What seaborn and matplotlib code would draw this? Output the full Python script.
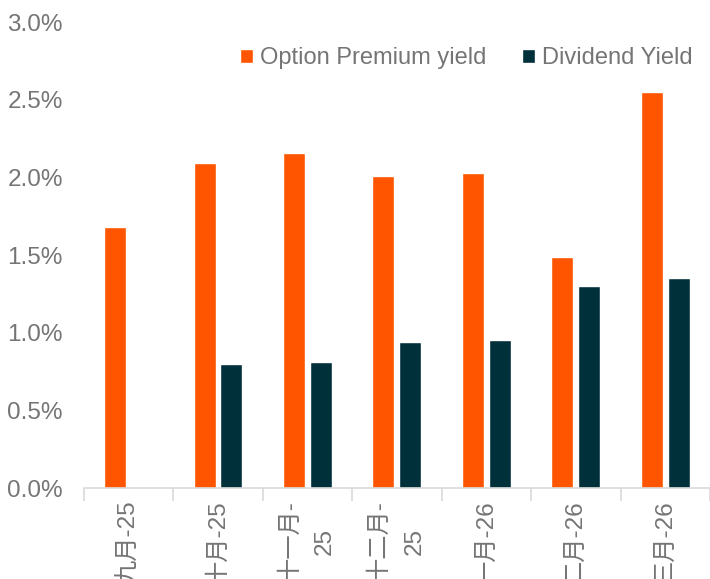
import numpy as np
import pandas as pd
import matplotlib
matplotlib.use("Agg")
import matplotlib.pyplot as plt
from matplotlib.ticker import PercentFormatter, FixedLocator
import seaborn as sns

# 数据 (单位: %)
months = ["九月-25", "十月-25", "十一月-\n25", "十二月-\n25", "一月-26", "二月-26", "三月-26"]
option_premium = [1.68, 2.09, 2.16, 2.01, 2.03, 1.49, 2.55]
dividend_yield = [np.nan, 0.80, 0.81, 0.94, 0.955, 1.30, 1.35]
series_names = ["Option Premium yield", "Dividend Yield"]
colors = ["#FF5500", "#00303A"]

df = pd.DataFrame({
    "month": months * 2,
    "value": option_premium + dividend_yield,
    "series": [series_names[0]] * len(months) + [series_names[1]] * len(months),
})

sns.set_theme(style="white")
plt.rcParams["font.family"] = ["Liberation Sans", "Noto Sans CJK SC", "DejaVu Sans"]
text_color = "#757575"
fs = 17.5

fig, ax = plt.subplots(figsize=(7.1, 5.79), dpi=100)
fig.subplots_adjust(left=0.118, right=1.0, top=0.962, bottom=0.157)

sns.barplot(data=df, x="month", y="value", hue="series", palette=colors,
            width=0.6, gap=0.18, saturation=1, ax=ax)

ax.set_ylim(0, 3.0)
ax.set_yticks(np.arange(0, 3.01, 0.5))
ax.yaxis.set_major_formatter(PercentFormatter(100, decimals=1))
ax.set_xlim(-0.5, len(months) - 0.5)
ax.set_xlabel("")
ax.set_ylabel("")

for s in ["top", "right", "left"]:
    ax.spines[s].set_visible(False)
ax.spines["bottom"].set_color("#D9D9D9")
ax.spines["bottom"].set_linewidth(1.2)

ax.tick_params(axis="y", length=0, pad=15, labelsize=fs, labelcolor=text_color)
ax.tick_params(axis="x", which="major", length=0, pad=9, labelsize=fs, labelcolor=text_color)
ax.xaxis.set_minor_locator(FixedLocator(np.arange(-0.5, len(months), 1.0)))
ax.tick_params(axis="x", which="minor", bottom=True, length=9, width=1.2, color="#D9D9D9")

# 标签与参考图一样从底边截断
for lab in ax.get_xticklabels():
    lab.set_rotation(90)
    lab.set_va("top")
    lab.set_ha("center")
    lab.set_multialignment("center")
    lab.set_linespacing(1.75)

ax.legend(loc="upper right", bbox_to_anchor=(0.972, 0.946), ncol=2, frameon=False,
          fontsize=17, labelcolor=text_color, handlelength=0.55, handleheight=0.55,
          handletextpad=0.3, columnspacing=1.5, borderaxespad=0, borderpad=0)

plt.savefig("out.png", dpi=100)
